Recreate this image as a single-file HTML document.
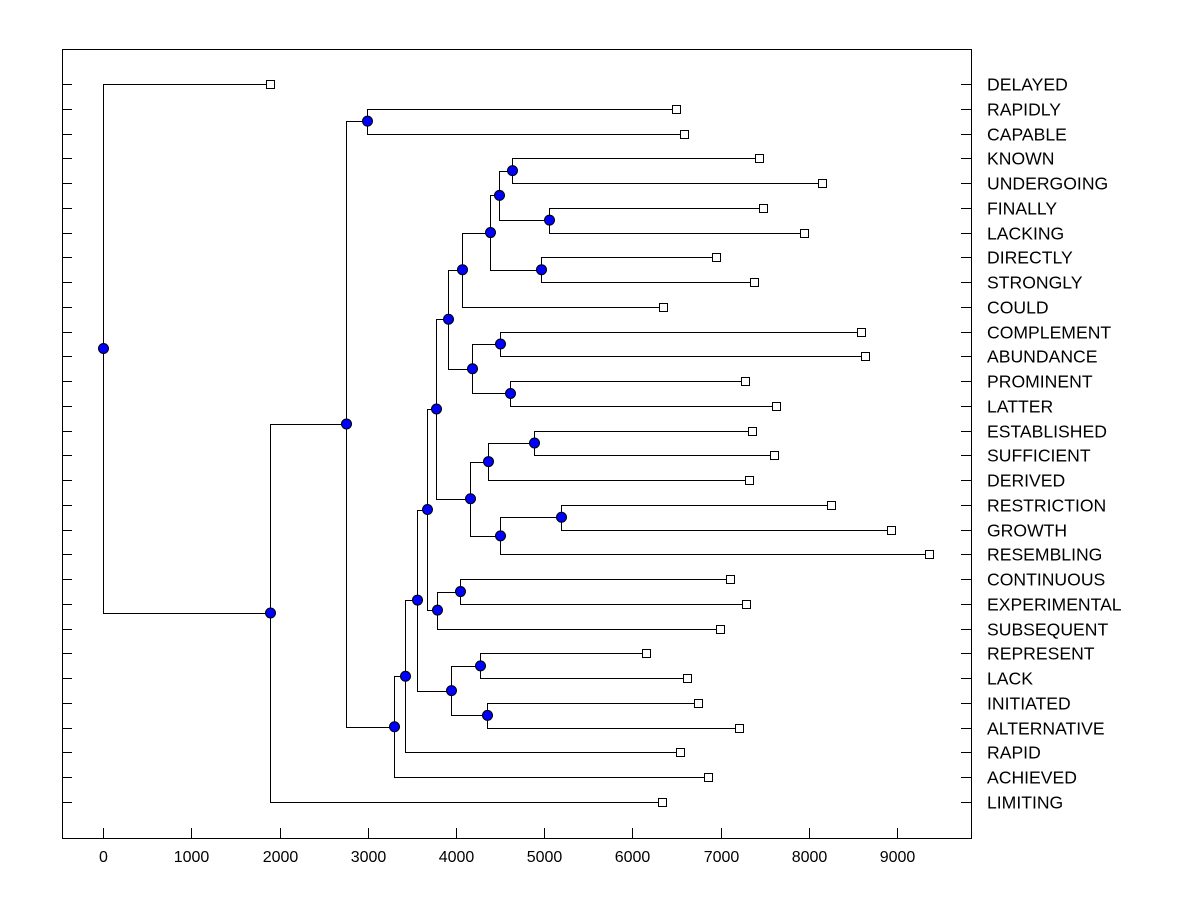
<!DOCTYPE html>
<html><head><meta charset="utf-8"><style>
body{margin:0;background:#fff}
svg{display:block}
text{font-family:"Liberation Sans",sans-serif;font-size:16px;fill:#000}
text.leaf{font-size:17.6px}
</style></head><body>
<svg id="chart" width="1200" height="900" xmlns="http://www.w3.org/2000/svg">
<rect x="62.5" y="49.5" width="909" height="789" fill="none" stroke="#000" stroke-width="1"/>
<g id="g"></g>
</svg>
<script>
const leafNames=["DELAYED","RAPIDLY","CAPABLE","KNOWN","UNDERGOING","FINALLY","LACKING","DIRECTLY","STRONGLY","COULD","COMPLEMENT","ABUNDANCE","PROMINENT","LATTER","ESTABLISHED","SUFFICIENT","DERIVED","RESTRICTION","GROWTH","RESEMBLING","CONTINUOUS","EXPERIMENTAL","SUBSEQUENT","REPRESENT","LACK","INITIATED","ALTERNATIVE","RAPID","ACHIEVED","LIMITING"];
const leafValues=[1893,6495,6586,7436,8150,7481,7946,6949,7379,6348,8592,8638,7277,7629,7357,7606,7323,8252,8932,9363,7107,7289,6994,6155,6620,6745,7209,6541,6858,6337];
const mergeChildren=[
["L1","L2"],["L3","L4"],["L5","L6"],["N1","N2"],["L7","L8"],["N3","N4"],["N5","L9"],
["L10","L11"],["L12","L13"],["N7","N8"],["N6","N9"],
["L14","L15"],["N11","L16"],["L17","L18"],["N13","L19"],["N12","N14"],["N10","N15"],
["L20","L21"],["N17","L22"],["N16","N18"],
["L23","L24"],["L25","L26"],["N20","N21"],["N19","N22"],["N23","L27"],["N24","L28"],
["N0","N25"],["N26","L29"],["L0","N27"]];
const mergeHeights=[2993,4636,5056,4489,4965,4387,4069,4500,4613,4183,3911,4886,4364,5192,4500,4160,3775,4047,3786,3673,4273,4353,3945,3559,3423,3299,2754,1893,0];
const xTicks=[0,1000,2000,3000,4000,5000,6000,7000,8000,9000];

const NS="http://www.w3.org/2000/svg";
const g=document.getElementById('g');
const X=v=>103.3+v*(897-103.3)/9000;
const Y=i=>84+i*(802-84)/29;
function mk(t,a){const e=document.createElementNS(NS,t);for(const k in a)e.setAttribute(k,a[k]);g.appendChild(e);return e;}
const pos={};
leafNames.forEach((n,i)=>{pos["L"+i]={x:X(leafValues[i]),y:Y(i)};});
const lines=[],nodes=[];
mergeChildren.forEach((c,i)=>{
  const a=pos[c[0]],b=pos[c[1]],x=X(mergeHeights[i]);
  pos["N"+i]={x:x,y:(a.y+b.y)/2};
  lines.push([x,a,b]);nodes.push(pos["N"+i]);
});
lines.forEach(l=>{
  const [x,a,b]=l;
  const p=mk('path',{d:`M${a.x},${Math.round(a.y)+.5}H${Math.round(x)+.5}V${Math.round(b.y)+.5}H${b.x}`,fill:'none',stroke:'#000','stroke-width':1});
  
  
});
leafNames.forEach((n,i)=>{
  const y=Math.round(Y(i))+.5;
  const t1=mk('line',{x1:62,x2:72,y1:y,y2:y,stroke:'#000'});
  
  
  const t2=mk('line',{x1:961,x2:971,y1:y,y2:y,stroke:'#000'});
  
  
  const p=pos["L"+i];
  const r=mk('rect',{x:Math.round(p.x)-3.5,y:y-4,width:8,height:8,fill:'#fff',stroke:'#000'});
  
  
  const t=mk('text',{x:987,y:y+6,class:'leaf'});t.textContent=n;
  
  
});
nodes.forEach(p=>{
  const c=mk('circle',{cx:Math.round(p.x)+.5,cy:p.y,r:5,fill:'#0000ff',stroke:'#000','stroke-width':1});
  
  
});
xTicks.forEach(v=>{
  const x=Math.round(X(v))+.5;
  const l=mk('line',{x1:x,x2:x,y1:828,y2:838,stroke:'#000'});
  
  
  const t=mk('text',{x:x,y:862,'text-anchor':'middle'});t.textContent=v;
  
  
});
</script>
</body></html>
